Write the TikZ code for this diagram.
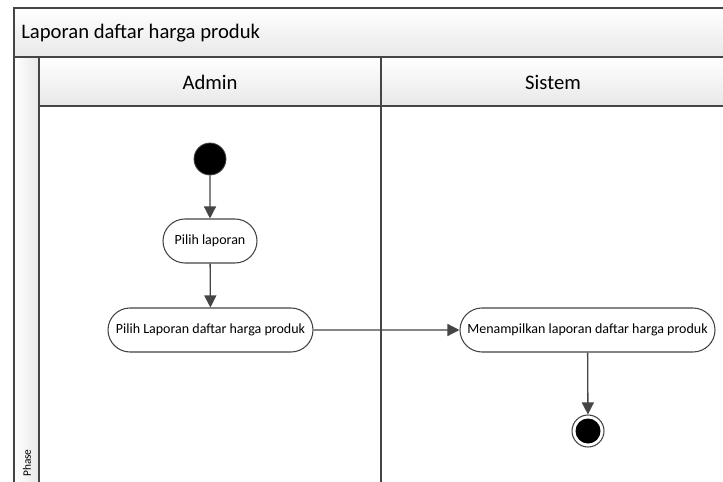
\documentclass[tikz,border=0pt]{standalone}
\usepackage{fontspec}
\setmainfont{Carlito}
\usetikzlibrary{arrows.meta,shapes.misc}
\definecolor{lc}{HTML}{454545}
\tikzset{
  lane/.style={draw=lc,line width=1pt},
  hdr/.style={draw=lc,line width=1pt,top color=white,bottom color=black!9},
  hdrtext/.style={font=\fontsize{15.5}{18}\selectfont,inner sep=0pt},
  act/.style={draw=lc,line width=0.8pt,rounded rectangle,fill=white,font=\fontsize{10.5}{12}\selectfont,inner sep=0pt},
  flow/.style={draw=lc,line width=1pt,-{Triangle[length=9pt,width=9pt]}},
}
\begin{document}
\begin{tikzpicture}[x=0.75pt,y=-0.75pt]
\useasboundingbox (0,0) rectangle (723,481);
\fill[white] (0,0) rectangle (723,481);
\clip (0,0) rectangle (723,481);
% title band
\path[hdr] (14,8) rectangle (760,57);
\node[hdrtext,anchor=west] (title) at (21,33) {Laporan daftar harga produk};
% phase column
\path[draw=lc,line width=1pt,left color=white,right color=black!9] (14,57) rectangle (39,500);
\node[rotate=90,anchor=west,font=\fontsize{8.5}{9}\selectfont,inner sep=0pt] (phase) at (27,477) {Phase};
% lane headers
\path[hdr] (39,57) rectangle (381,106);
\path[hdr] (381,57) rectangle (760,106);
\node[hdrtext] (admin) at (210,82) {Admin};
\node[hdrtext] (sistem) at (553,82) {Sistem};
% lane bodies
\draw[lane] (39,106) rectangle (381,500);
\draw[lane] (381,106) rectangle (760,500);
% activities
\node[circle,fill=black,draw=lc,line width=0.6pt,minimum size=32*0.75pt,inner sep=0pt] (start) at (210,159) {};
\node[act,minimum width=94*0.75pt,minimum height=44*0.75pt] (a1) at (210,241) {Pilih laporan};
\node[act,minimum width=205*0.75pt,minimum height=44*0.75pt] (a2) at (210.5,330) {Pilih Laporan daftar harga produk};
\node[act,minimum width=255*0.75pt,minimum height=44*0.75pt] (a3) at (587.5,330) {Menampilkan laporan daftar harga produk};
\node[circle,draw=lc,fill=white,line width=0.8pt,minimum size=32*0.75pt,inner sep=0pt] (end) at (588,431) {};
\node[circle,fill=black,minimum size=25*0.75pt,inner sep=0pt] (endin) at (end) {};
% flows
\draw[flow] (start) -- (a1);
\draw[flow] (a1) -- (a2);
\draw[flow] (a2) -- (a3);
\draw[flow] (a3) -- (end);
\end{tikzpicture}
\end{document}
